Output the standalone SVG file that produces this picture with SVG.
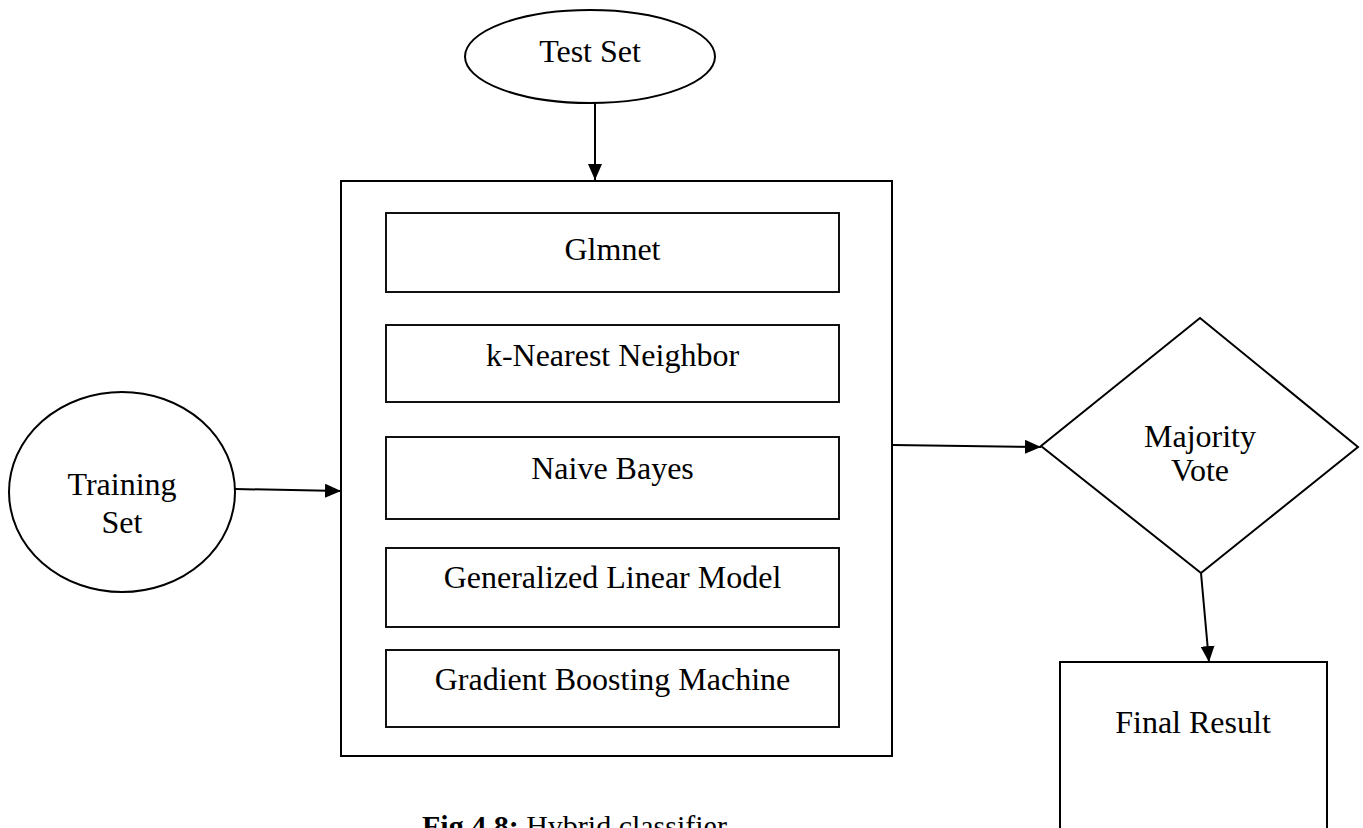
<svg xmlns="http://www.w3.org/2000/svg" width="1363" height="828" viewBox="0 0 1363 828">
  <style>
    .shape { fill: #ffffff; stroke: #000000; stroke-width: 2; }
    .inner { fill: #ffffff; stroke: #111111; stroke-width: 2; }
    .label { font-family: "Liberation Serif", "Times New Roman", serif; font-size: 32px; fill: #000000; text-anchor: middle; }
    .edge { fill: none; stroke: #000000; stroke-width: 2; }
    .caption { font-family: "Liberation Serif", "Times New Roman", serif; font-size: 30px; fill: #000000; }
  </style>
  <defs>
    <marker id="arrow" markerUnits="userSpaceOnUse" markerWidth="16" markerHeight="14" refX="16" refY="7" orient="auto">
      <path d="M0,0 L16,7 L0,14 z" fill="#000000"/>
    </marker>
  </defs>

  <rect width="1363" height="828" fill="#ffffff"/>

  <!-- connectors -->
  <g id="connectors">
    <line class="edge" x1="595" y1="103" x2="595" y2="180" marker-end="url(#arrow)"/>
    <line class="edge" x1="235" y1="489" x2="341" y2="491" marker-end="url(#arrow)"/>
    <line class="edge" x1="893" y1="445" x2="1041" y2="447" marker-end="url(#arrow)"/>
    <line class="edge" x1="1201" y1="573" x2="1209" y2="662" marker-end="url(#arrow)"/>
  </g>

  <g id="test-set">
    <ellipse class="shape" cx="590" cy="56.5" rx="125" ry="46.5"/>
    <text class="label" x="590" y="62">Test Set</text>
  </g>

  <g id="training-set">
    <ellipse class="shape" cx="122" cy="492" rx="113" ry="100"/>
    <text class="label" x="122" y="495">Training</text>
    <text class="label" x="122" y="533">Set</text>
  </g>

  <g id="classifiers">
    <rect class="shape" x="341" y="181" width="551" height="575"/>
    <g id="glmnet">
      <rect class="inner" x="386" y="213" width="453" height="79"/>
      <text class="label" x="612.5" y="260">Glmnet</text>
    </g>
    <g id="knn">
      <rect class="inner" x="386" y="325" width="453" height="77"/>
      <text class="label" x="612.5" y="366">k-Nearest Neighbor</text>
    </g>
    <g id="naive-bayes">
      <rect class="inner" x="386" y="437" width="453" height="82"/>
      <text class="label" x="612.5" y="479">Naive Bayes</text>
    </g>
    <g id="glm">
      <rect class="inner" x="386" y="548" width="453" height="79"/>
      <text class="label" x="612.5" y="588">Generalized Linear Model</text>
    </g>
    <g id="gbm">
      <rect class="inner" x="386" y="650" width="453" height="77"/>
      <text class="label" x="612.5" y="690">Gradient Boosting Machine</text>
    </g>
  </g>

  <g id="majority-vote">
    <polygon class="shape" points="1200,318 1358,447 1201,573 1041,446"/>
    <text class="label" x="1200" y="447">Majority</text>
    <text class="label" x="1200" y="481">Vote</text>
  </g>

  <g id="final-result">
    <rect class="shape" x="1060" y="662" width="267" height="200"/>
    <text class="label" x="1193" y="733">Final Result</text>
  </g>

  <text class="caption" x="422" y="836"><tspan font-weight="bold">Fig 4.8:</tspan> Hybrid classifier</text>
</svg>
